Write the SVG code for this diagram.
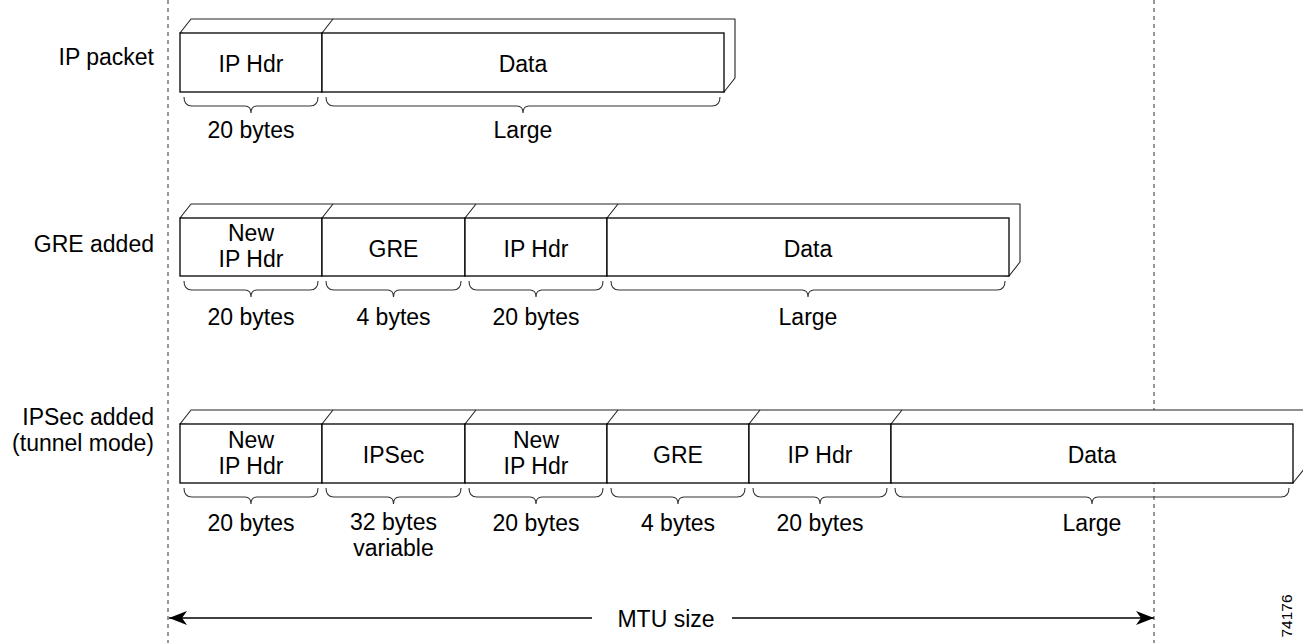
<svg xmlns="http://www.w3.org/2000/svg" width="1303" height="643" viewBox="0 0 1303 643">
<style>
text{font-family:"Liberation Sans",Arial,Helvetica,sans-serif;font-size:23px;fill:#000}
.c{text-anchor:middle}
.r{text-anchor:end}
.front{fill:#fff;stroke:#000;stroke-width:1.3}
.back{fill:#fff;stroke:#222;stroke-width:1.1;stroke-linejoin:round}
.brace{fill:none;stroke:#333;stroke-width:1.1}
.dash{stroke:#555;stroke-width:1.2;stroke-dasharray:4 4}
.arrow{stroke:#000;stroke-width:1.3;fill:none}
</style>
<defs>
<marker id="ah" viewBox="0 0 18 14" refX="18" refY="7" markerWidth="18" markerHeight="14" markerUnits="userSpaceOnUse" orient="auto">
<path d="M0,0 L18,7 L0,14 L5,7 Z" fill="#000"/>
</marker>
</defs>
<rect width="1303" height="643" fill="#fff"/>

<g id="mtu-bounds">
<line class="dash" x1="168" y1="0" x2="168" y2="643"/>
<line class="dash" x1="1154" y1="0" x2="1154" y2="643"/>
</g>

<g id="row-labels">
<text class="r" x="154" y="65">IP packet</text>
<text class="r" x="154" y="252">GRE added</text>
<text class="r" x="154" y="425">IPSec added</text>
<text class="r" x="154" y="451">(tunnel mode)</text>
</g>

<!-- Row 1 -->
<g id="packet-ip">
<path class="back" d="M180,33 L191,19 L735,19 L735,78 L724,92 Z"/>
<path class="back" d="M322,33 L333,19"/>
<g id="p1-iphdr"><rect class="front" x="180" y="33" width="142" height="59"/><text class="c" x="251" y="72">IP Hdr</text></g>
<g id="p1-data"><rect class="front" x="322" y="33" width="402" height="59"/><text class="c" x="523" y="72">Data</text></g>
<path class="brace" d="M184,97 Q184,106 192,106 H245 Q251,106 251,113 Q251,106 257,106 H310 Q318,106 318,97"/>
<path class="brace" d="M326,97 Q326,106 334,106 H517 Q523,106 523,113 Q523,106 529,106 H712 Q720,106 720,97"/>
<text class="c" x="251" y="138">20 bytes</text>
<text class="c" x="523" y="138">Large</text>
</g>

<!-- Row 2 -->
<g id="packet-gre">
<path class="back" d="M180,218 L191,204 L1020,204 L1020,262 L1009,276 Z"/>
<path class="back" d="M322,218 L333,204 M465,218 L476,204 M607,218 L618,204"/>
<g id="p2-newip"><rect class="front" x="180" y="218" width="142" height="58"/><text class="c" x="251" y="241">New</text><text class="c" x="251" y="267">IP Hdr</text></g>
<g id="p2-gre"><rect class="front" x="322" y="218" width="143" height="58"/><text class="c" x="393.5" y="257">GRE</text></g>
<g id="p2-iphdr"><rect class="front" x="465" y="218" width="142" height="58"/><text class="c" x="536" y="257">IP Hdr</text></g>
<g id="p2-data"><rect class="front" x="607" y="218" width="402" height="58"/><text class="c" x="808" y="257">Data</text></g>
<path class="brace" d="M184,281 Q184,290 192,290 H245 Q251,290 251,297 Q251,290 257,290 H310 Q318,290 318,281"/>
<path class="brace" d="M326,281 Q326,290 334,290 H387.5 Q393.5,290 393.5,297 Q393.5,290 399.5,290 H453 Q461,290 461,281"/>
<path class="brace" d="M469,281 Q469,290 477,290 H530 Q536,290 536,297 Q536,290 542,290 H595 Q603,290 603,281"/>
<path class="brace" d="M611,281 Q611,290 619,290 H802 Q808,290 808,297 Q808,290 814,290 H997 Q1005,290 1005,281"/>
<text class="c" x="251" y="325">20 bytes</text>
<text class="c" x="393.5" y="325">4 bytes</text>
<text class="c" x="536" y="325">20 bytes</text>
<text class="c" x="808" y="325">Large</text>
</g>

<!-- Row 3 -->
<g id="packet-ipsec">
<path class="back" d="M180,424 L191,410 L1304,410 L1304,469 L1293,483 Z"/>
<path class="back" d="M322,424 L333,410 M465,424 L476,410 M607,424 L618,410 M749,424 L760,410 M891,424 L902,410"/>
<g id="p3-newip"><rect class="front" x="180" y="424" width="142" height="59"/><text class="c" x="251" y="448">New</text><text class="c" x="251" y="474">IP Hdr</text></g>
<g id="p3-ipsec"><rect class="front" x="322" y="424" width="143" height="59"/><text class="c" x="393.5" y="463">IPSec</text></g>
<g id="p3-newip2"><rect class="front" x="465" y="424" width="142" height="59"/><text class="c" x="536" y="448">New</text><text class="c" x="536" y="474">IP Hdr</text></g>
<g id="p3-gre"><rect class="front" x="607" y="424" width="142" height="59"/><text class="c" x="678" y="463">GRE</text></g>
<g id="p3-iphdr"><rect class="front" x="749" y="424" width="142" height="59"/><text class="c" x="820" y="463">IP Hdr</text></g>
<g id="p3-data"><rect class="front" x="891" y="424" width="402" height="59"/><text class="c" x="1092" y="463">Data</text></g>
<path class="brace" d="M184,488 Q184,497 192,497 H245 Q251,497 251,504 Q251,497 257,497 H310 Q318,497 318,488"/>
<path class="brace" d="M326,488 Q326,497 334,497 H387.5 Q393.5,497 393.5,504 Q393.5,497 399.5,497 H453 Q461,497 461,488"/>
<path class="brace" d="M469,488 Q469,497 477,497 H530 Q536,497 536,504 Q536,497 542,497 H595 Q603,497 603,488"/>
<path class="brace" d="M611,488 Q611,497 619,497 H672 Q678,497 678,504 Q678,497 684,497 H737 Q745,497 745,488"/>
<path class="brace" d="M753,488 Q753,497 761,497 H814 Q820,497 820,504 Q820,497 826,497 H879 Q887,497 887,488"/>
<path class="brace" d="M895,488 Q895,497 903,497 H1086 Q1092,497 1092,504 Q1092,497 1098,497 H1281 Q1289,497 1289,488"/>
<text class="c" x="251" y="531">20 bytes</text>
<text class="c" x="393.5" y="530">32 bytes</text>
<text class="c" x="393.5" y="556">variable</text>
<text class="c" x="536" y="531">20 bytes</text>
<text class="c" x="678" y="531">4 bytes</text>
<text class="c" x="820" y="531">20 bytes</text>
<text class="c" x="1092" y="531">Large</text>
</g>

<g id="connectors">
<line class="arrow" x1="592" y1="618" x2="169" y2="618" marker-end="url(#ah)"/>
<line class="arrow" x1="732" y1="618" x2="1154" y2="618" marker-end="url(#ah)"/>
</g>
<g id="mtu-label">
<text class="c" x="666" y="627">MTU size</text>
</g>
<text id="fig-id" style="font-size:15.5px" class="c" transform="translate(1292,616) rotate(-90)">74176</text>
</svg>
